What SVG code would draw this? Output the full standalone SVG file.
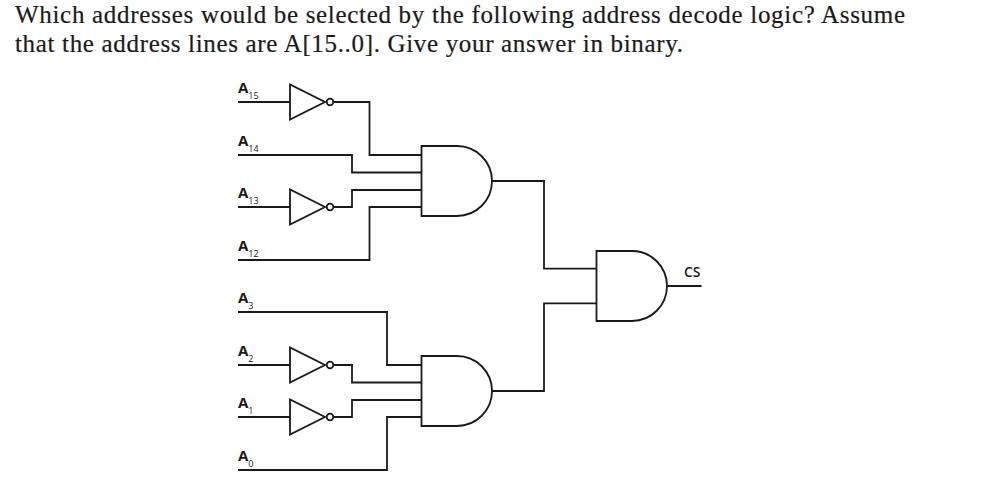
<svg xmlns="http://www.w3.org/2000/svg" width="983" height="498" viewBox="0 0 983 498">
<defs>
<style>
.q{font-family:"Liberation Serif",serif;font-size:25px;fill:#1a1a1a;stroke:#1a1a1a;stroke-width:.2}
.l{font-family:"Open Sans","Liberation Sans",sans-serif;font-size:15px;font-weight:700;fill:#1a1a1a}
.c{font-size:14px;font-weight:600}
.s{font-size:9px;font-weight:400}
.w,.g{fill:none;stroke:#1a1a1a;stroke-width:1.8}
.g{fill:#fff}
</style>
<g id="inv"><path class="g" d="M0 -17.5V17.5L35 0Z"/><circle class="g" cx="40" cy="0" r="3.3"/></g>
<path id="and" class="g" d="M0 -35H35.5A35 35 0 0 1 35.5 35H0Z"/>
</defs>
<rect width="983" height="498" fill="#fff"/>
<text class="q" x="15" y="22.5" textLength="890" lengthAdjust="spacing">Which addresses would be selected by the following address decode logic? Assume</text>
<text class="q" x="15" y="52" textLength="668" lengthAdjust="spacing">that the address lines are A[15..0]. Give your answer in binary.</text>
<g id="connectors">
<path class="w" d="M238 102H290M333.5 102H369.5V155H421.5"/>
<path class="w" d="M238 155H352V172.5H421.5"/>
<path class="w" d="M238 207H290M333.5 207H352V190H421.5"/>
<path class="w" d="M238 260H369.5V207H421.5"/>
<path class="w" d="M238 312H387V365H421.5"/>
<path class="w" d="M238 365H290M333.5 365H352V382.5H421.5"/>
<path class="w" d="M238 417H290M333.5 417H352V400H421.5"/>
<path class="w" d="M238 470H387V417H421.5"/>
<path class="w" d="M492 181H544V268.7H596.5"/>
<path class="w" d="M492 391H544V303.3H596.5"/>
<path class="w" d="M667 286H701.5"/>
</g>
<g id="inv-a15"><use href="#inv" x="290" y="102"/></g>
<g id="inv-a13"><use href="#inv" x="290" y="207"/></g>
<g id="inv-a2"><use href="#inv" x="290" y="365"/></g>
<g id="inv-a1"><use href="#inv" x="290" y="417"/></g>
<g id="and-top"><use href="#and" x="421.5" y="181"/></g>
<g id="and-bottom"><use href="#and" x="421.5" y="391"/></g>
<g id="and-cs"><use href="#and" x="596.5" y="286"/></g>
<g id="label-a15"><text class="l" x="238" y="93">A<tspan class="s" dy="6">15</tspan></text></g>
<g id="label-a14"><text class="l" x="238" y="146">A<tspan class="s" dy="6">14</tspan></text></g>
<g id="label-a13"><text class="l" x="238" y="198">A<tspan class="s" dy="6">13</tspan></text></g>
<g id="label-a12"><text class="l" x="238" y="251">A<tspan class="s" dy="6">12</tspan></text></g>
<g id="label-a3"><text class="l" x="238" y="303">A<tspan class="s" dy="6">3</tspan></text></g>
<g id="label-a2"><text class="l" x="238" y="356">A<tspan class="s" dy="6">2</tspan></text></g>
<g id="label-a1"><text class="l" x="238" y="408">A<tspan class="s" dy="6">1</tspan></text></g>
<g id="label-a0"><text class="l" x="238" y="461">A<tspan class="s" dy="6">0</tspan></text></g>
<g id="label-cs"><text class="l c" x="684" y="277">CS</text></g>
</svg>
